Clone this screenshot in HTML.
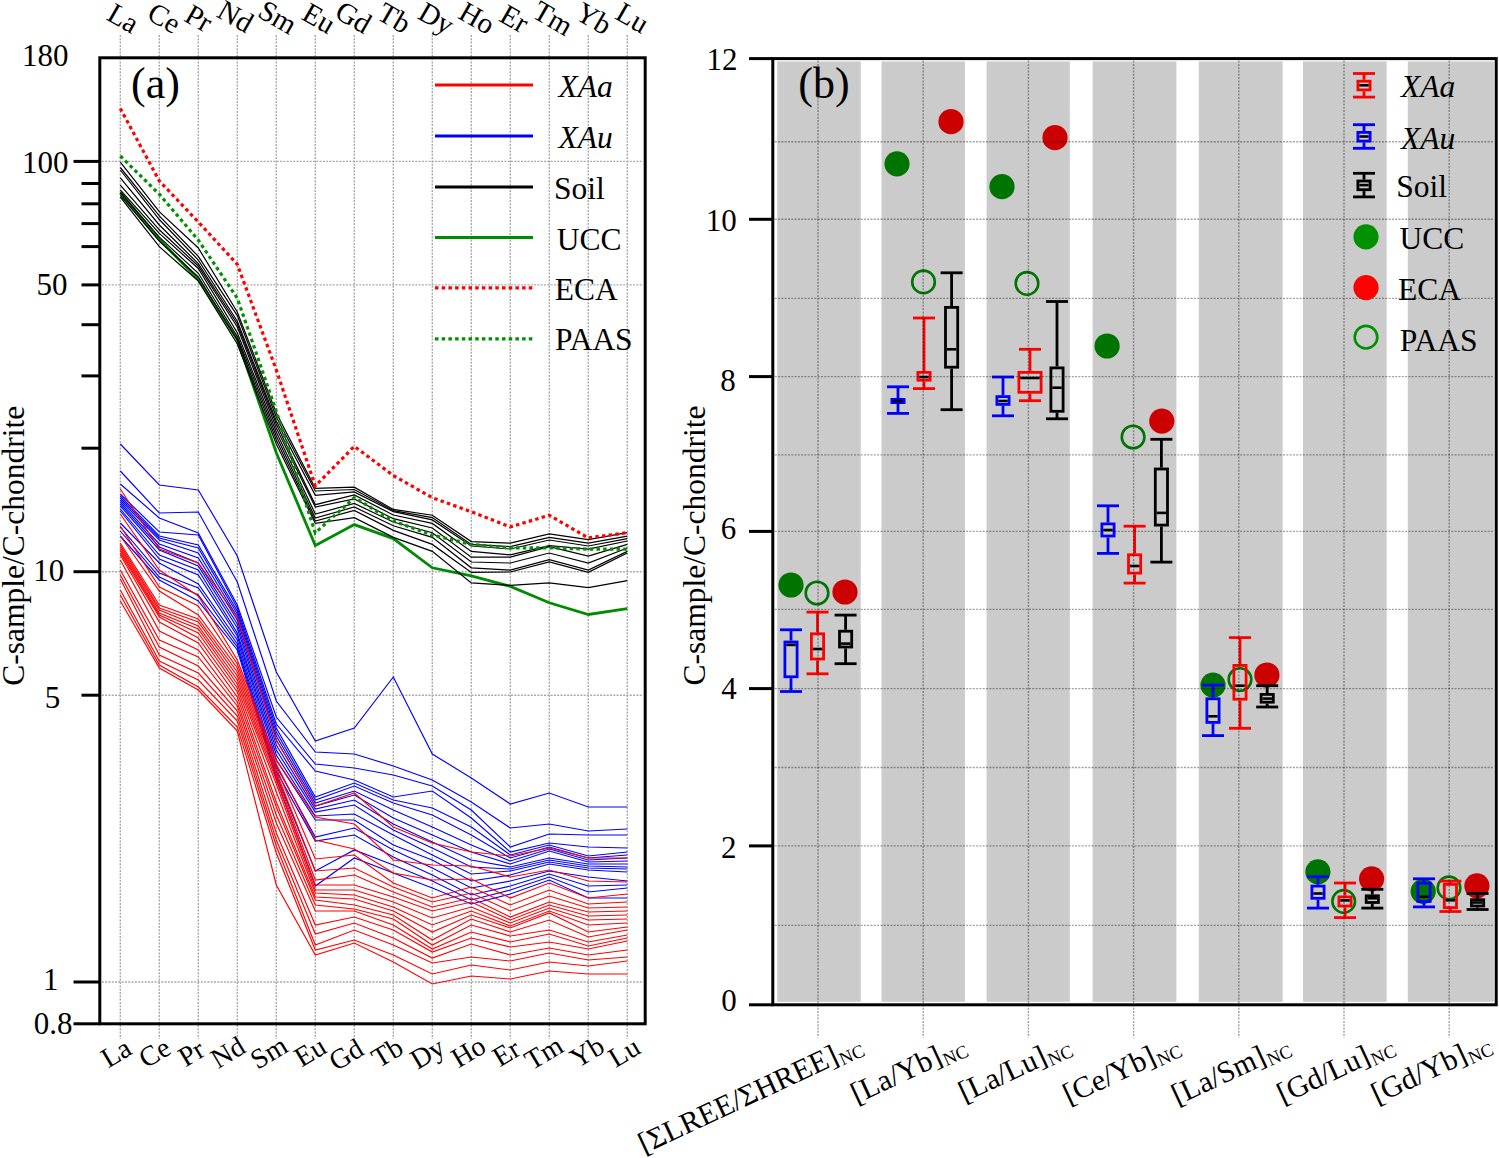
<!DOCTYPE html>
<html><head><meta charset="utf-8"><style>
html,body{margin:0;padding:0;background:#fff;overflow:hidden;}
svg{display:block;font-family:"Liberation Serif", serif;}
</style></head><body>
<svg width="1499" height="1158" viewBox="0 0 1499 1158" font-family='"Liberation Serif", serif'>
<rect width="1499" height="1158" fill="#fff"/>
<line x1="120.3" y1="35" x2="120.3" y2="1039" stroke="#a9a9a9" stroke-width="1.4" stroke-dasharray="2 1.3"/>
<line x1="159.3" y1="35" x2="159.3" y2="1039" stroke="#a9a9a9" stroke-width="1.4" stroke-dasharray="2 1.3"/>
<line x1="198.3" y1="35" x2="198.3" y2="1039" stroke="#a9a9a9" stroke-width="1.4" stroke-dasharray="2 1.3"/>
<line x1="237.3" y1="35" x2="237.3" y2="1039" stroke="#a9a9a9" stroke-width="1.4" stroke-dasharray="2 1.3"/>
<line x1="276.3" y1="35" x2="276.3" y2="1039" stroke="#a9a9a9" stroke-width="1.4" stroke-dasharray="2 1.3"/>
<line x1="315.3" y1="35" x2="315.3" y2="1039" stroke="#a9a9a9" stroke-width="1.4" stroke-dasharray="2 1.3"/>
<line x1="354.3" y1="35" x2="354.3" y2="1039" stroke="#a9a9a9" stroke-width="1.4" stroke-dasharray="2 1.3"/>
<line x1="393.3" y1="35" x2="393.3" y2="1039" stroke="#a9a9a9" stroke-width="1.4" stroke-dasharray="2 1.3"/>
<line x1="432.3" y1="35" x2="432.3" y2="1039" stroke="#a9a9a9" stroke-width="1.4" stroke-dasharray="2 1.3"/>
<line x1="471.3" y1="35" x2="471.3" y2="1039" stroke="#a9a9a9" stroke-width="1.4" stroke-dasharray="2 1.3"/>
<line x1="510.3" y1="35" x2="510.3" y2="1039" stroke="#a9a9a9" stroke-width="1.4" stroke-dasharray="2 1.3"/>
<line x1="549.3" y1="35" x2="549.3" y2="1039" stroke="#a9a9a9" stroke-width="1.4" stroke-dasharray="2 1.3"/>
<line x1="588.3" y1="35" x2="588.3" y2="1039" stroke="#a9a9a9" stroke-width="1.4" stroke-dasharray="2 1.3"/>
<line x1="627.3" y1="35" x2="627.3" y2="1039" stroke="#a9a9a9" stroke-width="1.4" stroke-dasharray="2 1.3"/>
<line x1="101.8" y1="161.4" x2="643.2" y2="161.4" stroke="#a9a9a9" stroke-width="1.4" stroke-dasharray="2 1.3"/>
<line x1="101.8" y1="284.9" x2="643.2" y2="284.9" stroke="#a9a9a9" stroke-width="1.4" stroke-dasharray="2 1.3"/>
<line x1="101.8" y1="571.7" x2="643.2" y2="571.7" stroke="#a9a9a9" stroke-width="1.4" stroke-dasharray="2 1.3"/>
<line x1="101.8" y1="695.2" x2="643.2" y2="695.2" stroke="#a9a9a9" stroke-width="1.4" stroke-dasharray="2 1.3"/>
<line x1="101.8" y1="982.0" x2="643.2" y2="982.0" stroke="#a9a9a9" stroke-width="1.4" stroke-dasharray="2 1.3"/>
<polyline points="120.3,444.0 159.3,485.0 198.3,490.0 237.3,556.0 276.3,672.0 315.3,741.0 354.3,728.0 393.3,677.0 432.3,754.0 471.3,778.0 510.3,804.0 549.3,793.0 588.3,807.0 627.3,807.0" fill="none" stroke="#0000ff" stroke-width="1.15"/>
<polyline points="120.3,471.0 159.3,513.0 198.3,512.0 237.3,582.0 276.3,701.0 315.3,752.0 354.3,754.0 393.3,766.0 432.3,780.0 471.3,802.0 510.3,828.0 549.3,824.0 588.3,831.0 627.3,829.0" fill="none" stroke="#0000ff" stroke-width="1.15"/>
<polyline points="120.3,484.0 159.3,518.0 198.3,533.0 237.3,605.0 276.3,717.0 315.3,764.0 354.3,768.0 393.3,775.0 432.3,786.0 471.3,810.0 510.3,847.0 549.3,834.0 588.3,835.0 627.3,835.0" fill="none" stroke="#0000ff" stroke-width="1.15"/>
<polyline points="120.3,494.0 159.3,532.0 198.3,535.0 237.3,608.0 276.3,724.0 315.3,771.0 354.3,780.0 393.3,797.0 432.3,791.0 471.3,818.0 510.3,852.0 549.3,843.0 588.3,847.0 627.3,848.0" fill="none" stroke="#0000ff" stroke-width="1.15"/>
<polyline points="120.3,496.0 159.3,536.0 198.3,545.0 237.3,611.0 276.3,728.0 315.3,797.0 354.3,783.0 393.3,800.0 432.3,808.0 471.3,827.0 510.3,855.0 549.3,845.0 588.3,856.0 627.3,852.0" fill="none" stroke="#0000ff" stroke-width="1.15"/>
<polyline points="120.3,498.0 159.3,538.0 198.3,548.0 237.3,614.0 276.3,732.0 315.3,800.0 354.3,786.0 393.3,803.0 432.3,815.0 471.3,835.0 510.3,858.0 549.3,847.0 588.3,858.0 627.3,855.0" fill="none" stroke="#0000ff" stroke-width="1.15"/>
<polyline points="120.3,500.0 159.3,540.0 198.3,553.0 237.3,617.0 276.3,736.0 315.3,803.0 354.3,791.0 393.3,810.0 432.3,827.0 471.3,845.0 510.3,861.0 549.3,849.0 588.3,860.0 627.3,858.0" fill="none" stroke="#0000ff" stroke-width="1.15"/>
<polyline points="120.3,502.0 159.3,544.0 198.3,558.0 237.3,620.0 276.3,740.0 315.3,806.0 354.3,795.0 393.3,818.0 432.3,835.0 471.3,852.0 510.3,864.0 549.3,851.0 588.3,862.0 627.3,861.0" fill="none" stroke="#0000ff" stroke-width="1.15"/>
<polyline points="120.3,504.0 159.3,547.0 198.3,563.0 237.3,624.0 276.3,745.0 315.3,809.0 354.3,800.0 393.3,824.0 432.3,842.0 471.3,860.0 510.3,867.0 549.3,858.0 588.3,864.0 627.3,864.0" fill="none" stroke="#0000ff" stroke-width="1.15"/>
<polyline points="120.3,506.0 159.3,550.0 198.3,566.0 237.3,628.0 276.3,750.0 315.3,812.0 354.3,805.0 393.3,830.0 432.3,848.0 471.3,867.0 510.3,869.0 549.3,860.0 588.3,866.0 627.3,867.0" fill="none" stroke="#0000ff" stroke-width="1.15"/>
<polyline points="120.3,509.0 159.3,555.0 198.3,570.0 237.3,633.0 276.3,755.0 315.3,816.0 354.3,814.0 393.3,835.0 432.3,855.0 471.3,874.0 510.3,871.0 549.3,862.0 588.3,868.0 627.3,869.0" fill="none" stroke="#0000ff" stroke-width="1.15"/>
<polyline points="120.3,511.0 159.3,559.0 198.3,575.0 237.3,636.0 276.3,760.0 315.3,820.0 354.3,820.0 393.3,845.0 432.3,860.0 471.3,881.0 510.3,875.0 549.3,864.0 588.3,870.0 627.3,872.0" fill="none" stroke="#0000ff" stroke-width="1.15"/>
<polyline points="120.3,523.0 159.3,563.0 198.3,584.0 237.3,640.0 276.3,766.0 315.3,837.0 354.3,828.0 393.3,850.0 432.3,868.0 471.3,888.0 510.3,881.0 549.3,871.0 588.3,877.0 627.3,881.0" fill="none" stroke="#0000ff" stroke-width="1.15"/>
<polyline points="120.3,527.0 159.3,573.0 198.3,588.0 237.3,644.0 276.3,771.0 315.3,841.0 354.3,835.0 393.3,857.0 432.3,875.0 471.3,895.0 510.3,886.0 549.3,874.0 588.3,886.0 627.3,885.0" fill="none" stroke="#0000ff" stroke-width="1.15"/>
<polyline points="120.3,531.0 159.3,577.0 198.3,595.0 237.3,647.0 276.3,775.0 315.3,871.0 354.3,850.0 393.3,865.0 432.3,881.0 471.3,900.0 510.3,890.0 549.3,877.0 588.3,892.0 627.3,888.0" fill="none" stroke="#0000ff" stroke-width="1.15"/>
<polyline points="120.3,536.0 159.3,580.0 198.3,601.0 237.3,650.0 276.3,779.0 315.3,886.0 354.3,858.0 393.3,873.0 432.3,888.0 471.3,904.0 510.3,894.0 549.3,880.0 588.3,898.0 627.3,898.0" fill="none" stroke="#0000ff" stroke-width="1.15"/>
<polyline points="120.3,489.0 159.3,549.0 198.3,563.0 237.3,617.0 276.3,740.0 315.3,806.0 354.3,793.0 393.3,827.0 432.3,843.0 471.3,852.0 510.3,856.0 549.3,848.0 588.3,858.0 627.3,858.0" fill="none" stroke="#ff0000" stroke-width="1.15"/>
<polyline points="120.3,514.0 159.3,570.0 198.3,596.0 237.3,660.0 276.3,760.0 315.3,817.0 354.3,824.0 393.3,860.0 432.3,865.0 471.3,866.0 510.3,877.0 549.3,870.0 588.3,881.0 627.3,882.0" fill="none" stroke="#ff0000" stroke-width="1.15"/>
<polyline points="120.3,526.0 159.3,587.0 198.3,606.0 237.3,664.0 276.3,764.0 315.3,840.0 354.3,849.0 393.3,873.0 432.3,880.0 471.3,879.0 510.3,898.0 549.3,883.0 588.3,898.0 627.3,894.0" fill="none" stroke="#ff0000" stroke-width="1.15"/>
<polyline points="120.3,536.0 159.3,591.0 198.3,615.0 237.3,668.0 276.3,768.0 315.3,859.0 354.3,855.0 393.3,883.0 432.3,898.0 471.3,887.0 510.3,905.0 549.3,890.0 588.3,904.0 627.3,902.0" fill="none" stroke="#ff0000" stroke-width="1.15"/>
<polyline points="120.3,543.0 159.3,605.0 198.3,619.0 237.3,672.0 276.3,772.0 315.3,871.0 354.3,868.0 393.3,887.0 432.3,902.0 471.3,893.0 510.3,911.0 549.3,896.0 588.3,908.0 627.3,907.0" fill="none" stroke="#ff0000" stroke-width="1.15"/>
<polyline points="120.3,545.0 159.3,608.0 198.3,622.0 237.3,676.0 276.3,776.0 315.3,880.0 354.3,875.0 393.3,892.0 432.3,907.0 471.3,898.0 510.3,917.0 549.3,902.0 588.3,912.0 627.3,911.0" fill="none" stroke="#ff0000" stroke-width="1.15"/>
<polyline points="120.3,547.0 159.3,610.0 198.3,626.0 237.3,680.0 276.3,780.0 315.3,885.0 354.3,885.0 393.3,897.0 432.3,911.0 471.3,902.0 510.3,920.0 549.3,905.0 588.3,916.0 627.3,915.0" fill="none" stroke="#ff0000" stroke-width="1.15"/>
<polyline points="120.3,549.0 159.3,613.0 198.3,629.0 237.3,684.0 276.3,784.0 315.3,890.0 354.3,890.0 393.3,902.0 432.3,918.0 471.3,907.0 510.3,923.0 549.3,908.0 588.3,920.0 627.3,919.0" fill="none" stroke="#ff0000" stroke-width="1.15"/>
<polyline points="120.3,551.0 159.3,615.0 198.3,633.0 237.3,688.0 276.3,792.0 315.3,893.0 354.3,895.0 393.3,907.0 432.3,925.0 471.3,911.0 510.3,926.0 549.3,911.0 588.3,925.0 627.3,923.0" fill="none" stroke="#ff0000" stroke-width="1.15"/>
<polyline points="120.3,553.0 159.3,617.0 198.3,638.0 237.3,692.0 276.3,802.0 315.3,897.0 354.3,899.0 393.3,911.0 432.3,932.0 471.3,915.0 510.3,928.0 549.3,913.0 588.3,932.0 627.3,927.0" fill="none" stroke="#ff0000" stroke-width="1.15"/>
<polyline points="120.3,555.0 159.3,622.0 198.3,643.0 237.3,697.0 276.3,807.0 315.3,900.0 354.3,905.0 393.3,915.0 432.3,940.0 471.3,919.0 510.3,932.0 549.3,920.0 588.3,937.0 627.3,930.0" fill="none" stroke="#ff0000" stroke-width="1.15"/>
<polyline points="120.3,560.0 159.3,631.0 198.3,650.0 237.3,702.0 276.3,815.0 315.3,905.0 354.3,909.0 393.3,919.0 432.3,945.0 471.3,925.0 510.3,936.0 549.3,930.0 588.3,942.0 627.3,935.0" fill="none" stroke="#ff0000" stroke-width="1.15"/>
<polyline points="120.3,570.0 159.3,640.0 198.3,657.0 237.3,706.0 276.3,823.0 315.3,911.0 354.3,911.0 393.3,925.0 432.3,949.0 471.3,932.0 510.3,942.0 549.3,934.0 588.3,946.0 627.3,938.0" fill="none" stroke="#ff0000" stroke-width="1.15"/>
<polyline points="120.3,575.0 159.3,647.0 198.3,666.0 237.3,711.0 276.3,833.0 315.3,925.0 354.3,917.0 393.3,930.0 432.3,952.0 471.3,938.0 510.3,947.0 549.3,942.0 588.3,949.0 627.3,941.0" fill="none" stroke="#ff0000" stroke-width="1.15"/>
<polyline points="120.3,579.0 159.3,655.0 198.3,673.0 237.3,716.0 276.3,840.0 315.3,934.0 354.3,923.0 393.3,938.0 432.3,958.0 471.3,944.0 510.3,955.0 549.3,948.0 588.3,955.0 627.3,950.0" fill="none" stroke="#ff0000" stroke-width="1.15"/>
<polyline points="120.3,590.0 159.3,661.0 198.3,680.0 237.3,721.0 276.3,846.0 315.3,945.0 354.3,930.0 393.3,945.0 432.3,963.0 471.3,957.0 510.3,961.0 549.3,953.0 588.3,960.0 627.3,957.0" fill="none" stroke="#ff0000" stroke-width="1.15"/>
<polyline points="120.3,595.0 159.3,665.0 198.3,687.0 237.3,727.0 276.3,853.0 315.3,950.0 354.3,940.0 393.3,955.0 432.3,974.0 471.3,965.0 510.3,970.0 549.3,962.0 588.3,966.0 627.3,961.0" fill="none" stroke="#ff0000" stroke-width="1.15"/>
<polyline points="120.3,601.0 159.3,668.0 198.3,690.0 237.3,731.0 276.3,885.0 315.3,955.0 354.3,943.0 393.3,962.0 432.3,984.0 471.3,976.0 510.3,979.0 549.3,971.0 588.3,974.0 627.3,974.0" fill="none" stroke="#ff0000" stroke-width="1.15"/>
<polyline points="120.3,192.5 159.3,239.5 198.3,279.5 237.3,339.5 276.3,452.8 315.3,545.6 354.3,524.6 393.3,538.6 432.3,567.8 471.3,575.9 510.3,586.4 549.3,602.8 588.3,614.5 627.3,608.6" fill="none" stroke="#008c00" stroke-width="2.8"/>
<polyline points="120.3,162.1 159.3,211.7 198.3,248.0 237.3,312.0 276.3,413.0 315.3,488.4 354.3,487.2 393.3,509.4 432.3,515.2 471.3,541.6 510.3,543.2 549.3,533.9 588.3,539.7 627.3,532.7" fill="none" stroke="#000" stroke-width="1.2"/>
<polyline points="120.3,167.5 159.3,215.9 198.3,256.4 237.3,315.6 276.3,417.0 315.3,491.0 354.3,489.5 393.3,510.6 432.3,517.6 471.3,544.4 510.3,546.7 549.3,537.4 588.3,543.2 627.3,536.2" fill="none" stroke="#000" stroke-width="1.2"/>
<polyline points="120.3,170.0 159.3,219.5 198.3,260.0 237.3,321.3 276.3,421.0 315.3,495.4 354.3,491.9 393.3,511.7 432.3,519.9 471.3,546.0 510.3,549.0 549.3,540.0 588.3,546.0 627.3,538.6" fill="none" stroke="#000" stroke-width="1.2"/>
<polyline points="120.3,177.8 159.3,225.0 198.3,263.6 237.3,324.0 276.3,424.0 315.3,504.7 354.3,495.0 393.3,515.0 432.3,523.4 471.3,551.4 510.3,554.9 549.3,545.6 588.3,549.1 627.3,541.0" fill="none" stroke="#000" stroke-width="1.2"/>
<polyline points="120.3,185.1 159.3,229.8 198.3,266.0 237.3,327.0 276.3,428.0 315.3,507.0 354.3,498.9 393.3,518.7 432.3,528.0 471.3,557.2 510.3,557.2 549.3,546.7 588.3,556.1 627.3,544.4" fill="none" stroke="#000" stroke-width="1.2"/>
<polyline points="120.3,189.9 159.3,233.4 198.3,268.5 237.3,332.7 276.3,432.0 315.3,514.0 354.3,503.5 393.3,522.0 432.3,532.7 471.3,562.0 510.3,563.0 549.3,553.0 588.3,563.0 627.3,548.0" fill="none" stroke="#000" stroke-width="1.2"/>
<polyline points="120.3,192.5 159.3,237.1 198.3,273.3 237.3,336.5 276.3,436.0 315.3,518.0 354.3,507.0 393.3,525.7 432.3,537.4 471.3,567.8 510.3,570.1 549.3,559.6 588.3,570.1 627.3,551.4" fill="none" stroke="#000" stroke-width="1.2"/>
<polyline points="120.3,195.3 159.3,241.0 198.3,277.0 237.3,340.0 276.3,440.0 315.3,521.0 354.3,510.5 393.3,530.4 432.3,544.4 471.3,572.4 510.3,572.0 549.3,561.9 588.3,572.4 627.3,553.0" fill="none" stroke="#000" stroke-width="1.2"/>
<polyline points="120.3,197.2 159.3,246.7 198.3,281.0 237.3,344.0 276.3,444.0 315.3,523.4 354.3,517.6 393.3,537.4 432.3,551.4 471.3,582.9 510.3,585.3 549.3,582.9 588.3,587.6 627.3,580.6" fill="none" stroke="#000" stroke-width="1.2"/>
<polyline points="120.3,156.0 159.3,194.2 198.3,240.1 237.3,298.2 276.3,411.3 315.3,532.9 354.3,497.7 393.3,521.0 432.3,535.1 471.3,544.4 510.3,547.9 549.3,547.9 588.3,549.1 627.3,549.1" fill="none" stroke="#009000" stroke-width="3.2" stroke-dasharray="3.5 3.2"/>
<polyline points="120.3,108.4 159.3,180.9 198.3,222.0 237.3,264.3 276.3,369.9 315.3,486.0 354.3,446.3 393.3,475.5 432.3,497.7 471.3,511.7 510.3,526.9 549.3,515.2 588.3,537.9 627.3,532.7" fill="none" stroke="#ff0000" stroke-width="3.2" stroke-dasharray="3.5 3.2"/>
<line x1="435" y1="85.1" x2="533" y2="85.1" stroke="#ff0000" stroke-width="3"/>
<text transform="translate(558.50,96.90)" text-anchor="start" font-size="31.5" font-style="italic">XAa</text>
<line x1="435" y1="135.9" x2="533" y2="135.9" stroke="#0000ff" stroke-width="3"/>
<text transform="translate(558.50,147.90)" text-anchor="start" font-size="31.5" font-style="italic">XAu</text>
<line x1="435" y1="186.9" x2="533" y2="186.9" stroke="#000" stroke-width="3"/>
<text transform="translate(554.00,198.90)" text-anchor="start" font-size="31.5">Soil</text>
<line x1="435" y1="237.4" x2="533" y2="237.4" stroke="#008c00" stroke-width="3"/>
<text transform="translate(556.70,249.50)" text-anchor="start" font-size="31.5">UCC</text>
<line x1="435" y1="287.9" x2="533" y2="287.9" stroke="#ff0000" stroke-width="3.2" stroke-dasharray="3.5 3.2"/>
<text transform="translate(554.70,299.80)" text-anchor="start" font-size="31.5">ECA</text>
<line x1="435" y1="338.9" x2="533" y2="338.9" stroke="#009000" stroke-width="3.2" stroke-dasharray="3.5 3.2"/>
<text transform="translate(555.00,350.00)" text-anchor="start" font-size="31.5">PAAS</text>
<rect x="99.8" y="57.8" width="545.4" height="966.0" fill="none" stroke="#000" stroke-width="3"/>
<line x1="73.5" y1="161.4" x2="99.8" y2="161.4" stroke="#000" stroke-width="3"/>
<line x1="73.5" y1="571.7" x2="99.8" y2="571.7" stroke="#000" stroke-width="3"/>
<line x1="73.5" y1="982.0" x2="99.8" y2="982.0" stroke="#000" stroke-width="3"/>
<line x1="81.5" y1="183.5" x2="99.8" y2="183.5" stroke="#000" stroke-width="3"/>
<line x1="81.5" y1="203.8" x2="99.8" y2="203.8" stroke="#000" stroke-width="3"/>
<line x1="81.5" y1="223.6" x2="99.8" y2="223.6" stroke="#000" stroke-width="3"/>
<line x1="81.5" y1="246.6" x2="99.8" y2="246.6" stroke="#000" stroke-width="3"/>
<line x1="81.5" y1="284.9" x2="99.8" y2="284.9" stroke="#000" stroke-width="3"/>
<line x1="81.5" y1="324.7" x2="99.8" y2="324.7" stroke="#000" stroke-width="3"/>
<line x1="81.5" y1="375.9" x2="99.8" y2="375.9" stroke="#000" stroke-width="3"/>
<line x1="81.5" y1="448.2" x2="99.8" y2="448.2" stroke="#000" stroke-width="3"/>
<line x1="81.5" y1="695.2" x2="99.8" y2="695.2" stroke="#000" stroke-width="3"/>
<line x1="73.5" y1="1023.8" x2="99.8" y2="1023.8" stroke="#000" stroke-width="3"/>
<text transform="translate(45.15,65.50)" text-anchor="middle" font-size="31">180</text>
<text transform="translate(45.15,173.15)" text-anchor="middle" font-size="31">100</text>
<text transform="translate(52.10,294.96)" text-anchor="middle" font-size="31">50</text>
<text transform="translate(48.75,581.10)" text-anchor="middle" font-size="31">10</text>
<text transform="translate(52.55,707.51)" text-anchor="middle" font-size="31">5</text>
<text transform="translate(50.75,989.55)" text-anchor="middle" font-size="31">1</text>
<text transform="translate(53.00,1034.10)" text-anchor="middle" font-size="31">0.8</text>
<text transform="translate(155.50,97.50)" text-anchor="middle" font-size="44">(a)</text>
<text transform="translate(23.50,545.70) rotate(-90)" text-anchor="middle" font-size="31.5">C-sample/C-chondrite</text>
<text transform="translate(118.40,26.60) rotate(30)" text-anchor="middle" font-size="29">La</text>
<text transform="translate(120.80,1061.00) rotate(-31)" text-anchor="middle" font-size="28">La</text>
<text transform="translate(159.40,26.30) rotate(30)" text-anchor="middle" font-size="29">Ce</text>
<text transform="translate(159.40,1060.80) rotate(-31)" text-anchor="middle" font-size="28">Ce</text>
<text transform="translate(193.90,26.60) rotate(30)" text-anchor="middle" font-size="29">Pr</text>
<text transform="translate(196.20,1061.00) rotate(-31)" text-anchor="middle" font-size="28">Pr</text>
<text transform="translate(230.60,24.90) rotate(30)" text-anchor="middle" font-size="29">Nd</text>
<text transform="translate(232.60,1060.40) rotate(-31)" text-anchor="middle" font-size="28">Nd</text>
<text transform="translate(272.90,25.60) rotate(30)" text-anchor="middle" font-size="29">Sm</text>
<text transform="translate(273.60,1060.30) rotate(-31)" text-anchor="middle" font-size="28">Sm</text>
<text transform="translate(314.20,26.60) rotate(30)" text-anchor="middle" font-size="29">Eu</text>
<text transform="translate(314.90,1059.80) rotate(-31)" text-anchor="middle" font-size="28">Eu</text>
<text transform="translate(348.60,25.60) rotate(30)" text-anchor="middle" font-size="29">Gd</text>
<text transform="translate(350.80,1062.60) rotate(-31)" text-anchor="middle" font-size="28">Gd</text>
<text transform="translate(389.50,26.40) rotate(30)" text-anchor="middle" font-size="29">Tb</text>
<text transform="translate(392.00,1060.60) rotate(-31)" text-anchor="middle" font-size="28">Tb</text>
<text transform="translate(431.50,26.60) rotate(30)" text-anchor="middle" font-size="29">Dy</text>
<text transform="translate(432.10,1061.30) rotate(-31)" text-anchor="middle" font-size="28">Dy</text>
<text transform="translate(472.10,26.40) rotate(30)" text-anchor="middle" font-size="29">Ho</text>
<text transform="translate(473.10,1059.80) rotate(-31)" text-anchor="middle" font-size="28">Ho</text>
<text transform="translate(509.50,27.10) rotate(30)" text-anchor="middle" font-size="29">Er</text>
<text transform="translate(511.00,1060.80) rotate(-31)" text-anchor="middle" font-size="28">Er</text>
<text transform="translate(548.10,26.60) rotate(30)" text-anchor="middle" font-size="29">Tm</text>
<text transform="translate(548.40,1060.80) rotate(-31)" text-anchor="middle" font-size="28">Tm</text>
<text transform="translate(588.90,26.90) rotate(30)" text-anchor="middle" font-size="29">Yb</text>
<text transform="translate(591.90,1059.90) rotate(-31)" text-anchor="middle" font-size="28">Yb</text>
<text transform="translate(627.60,26.10) rotate(30)" text-anchor="middle" font-size="29">Lu</text>
<text transform="translate(628.80,1060.30) rotate(-31)" text-anchor="middle" font-size="28">Lu</text>
<rect x="777.3" y="61.5" width="83.4" height="940.3" fill="#cbcbcb"/>
<rect x="881.5" y="61.5" width="83.4" height="940.3" fill="#cbcbcb"/>
<rect x="986.6" y="61.5" width="83.2" height="940.3" fill="#cbcbcb"/>
<rect x="1092.6" y="61.5" width="83.8" height="940.3" fill="#cbcbcb"/>
<rect x="1198.8" y="61.5" width="83.8" height="940.3" fill="#cbcbcb"/>
<rect x="1303.0" y="61.5" width="83.6" height="940.3" fill="#cbcbcb"/>
<rect x="1407.8" y="61.5" width="86.0" height="940.3" fill="#cbcbcb"/>
<circle cx="791" cy="585" r="12.6" fill="#007400"/>
<circle cx="897" cy="163.8" r="12.6" fill="#007400"/>
<circle cx="1002" cy="186.7" r="12.6" fill="#007400"/>
<circle cx="1107.1" cy="346" r="12.6" fill="#007400"/>
<circle cx="1213" cy="685.1" r="12.6" fill="#007400"/>
<circle cx="1317.9" cy="871.8" r="12.6" fill="#007400"/>
<circle cx="1423.2" cy="891.4" r="12.6" fill="#007400"/>
<circle cx="845" cy="592" r="12.6" fill="#cc0000"/>
<circle cx="951" cy="121.7" r="12.6" fill="#cc0000"/>
<circle cx="1055" cy="137.7" r="12.6" fill="#cc0000"/>
<circle cx="1161.8" cy="421.1" r="12.6" fill="#cc0000"/>
<circle cx="1266.9" cy="675" r="12.6" fill="#cc0000"/>
<circle cx="1371.6" cy="878.8" r="12.6" fill="#cc0000"/>
<circle cx="1476.9" cy="885.8" r="12.6" fill="#cc0000"/>
<circle cx="817" cy="593" r="11.299999999999999" fill="none" stroke="#007400" stroke-width="2.6"/>
<circle cx="923.5" cy="281.9" r="11.299999999999999" fill="none" stroke="#007400" stroke-width="2.6"/>
<circle cx="1027" cy="283.4" r="11.299999999999999" fill="none" stroke="#007400" stroke-width="2.6"/>
<circle cx="1133.1" cy="437" r="11.299999999999999" fill="none" stroke="#007400" stroke-width="2.6"/>
<circle cx="1240" cy="679.5" r="11.299999999999999" fill="none" stroke="#007400" stroke-width="2.6"/>
<circle cx="1343.7" cy="901.4" r="11.299999999999999" fill="none" stroke="#007400" stroke-width="2.6"/>
<circle cx="1449" cy="887.9" r="11.299999999999999" fill="none" stroke="#007400" stroke-width="2.6"/>
<line x1="780.0" y1="629.8" x2="802.0" y2="629.8" stroke="#0000ff" stroke-width="2.8"/>
<line x1="780.0" y1="691.5" x2="802.0" y2="691.5" stroke="#0000ff" stroke-width="2.8"/>
<line x1="791.0" y1="629.8" x2="791.0" y2="640.6" stroke="#0000ff" stroke-width="2.8"/>
<line x1="791.0" y1="678.2" x2="791.0" y2="691.5" stroke="#0000ff" stroke-width="2.8"/>
<rect x="784.9" y="642.0" width="12.2" height="34.8" fill="none" stroke="#0000ff" stroke-width="2.8"/>
<line x1="786.3" y1="644.9" x2="795.7" y2="644.9" stroke="#000" stroke-width="2.6"/>
<line x1="887.0" y1="386.8" x2="909.0" y2="386.8" stroke="#0000ff" stroke-width="2.8"/>
<line x1="887.0" y1="413.4" x2="909.0" y2="413.4" stroke="#0000ff" stroke-width="2.8"/>
<line x1="898.0" y1="386.8" x2="898.0" y2="398.0" stroke="#0000ff" stroke-width="2.8"/>
<line x1="898.0" y1="404.0" x2="898.0" y2="413.4" stroke="#0000ff" stroke-width="2.8"/>
<rect x="891.9" y="399.4" width="12.2" height="3.2" fill="none" stroke="#0000ff" stroke-width="2.8"/>
<line x1="893.3" y1="401.0" x2="902.7" y2="401.0" stroke="#000" stroke-width="2.6"/>
<line x1="992.0" y1="377.0" x2="1014.0" y2="377.0" stroke="#0000ff" stroke-width="2.8"/>
<line x1="992.0" y1="415.8" x2="1014.0" y2="415.8" stroke="#0000ff" stroke-width="2.8"/>
<line x1="1003.0" y1="377.0" x2="1003.0" y2="395.2" stroke="#0000ff" stroke-width="2.8"/>
<line x1="1003.0" y1="405.8" x2="1003.0" y2="415.8" stroke="#0000ff" stroke-width="2.8"/>
<rect x="996.9" y="396.6" width="12.2" height="7.8" fill="none" stroke="#0000ff" stroke-width="2.8"/>
<line x1="998.3" y1="401.0" x2="1007.7" y2="401.0" stroke="#000" stroke-width="2.6"/>
<line x1="1097.0" y1="505.8" x2="1119.0" y2="505.8" stroke="#0000ff" stroke-width="2.8"/>
<line x1="1097.0" y1="553.4" x2="1119.0" y2="553.4" stroke="#0000ff" stroke-width="2.8"/>
<line x1="1108.0" y1="505.8" x2="1108.0" y2="522.5" stroke="#0000ff" stroke-width="2.8"/>
<line x1="1108.0" y1="537.4" x2="1108.0" y2="553.4" stroke="#0000ff" stroke-width="2.8"/>
<rect x="1101.9" y="523.9" width="12.2" height="12.1" fill="none" stroke="#0000ff" stroke-width="2.8"/>
<line x1="1103.3" y1="530.0" x2="1112.7" y2="530.0" stroke="#000" stroke-width="2.6"/>
<line x1="1202.0" y1="685.1" x2="1224.0" y2="685.1" stroke="#0000ff" stroke-width="2.8"/>
<line x1="1202.0" y1="735.6" x2="1224.0" y2="735.6" stroke="#0000ff" stroke-width="2.8"/>
<line x1="1213.0" y1="685.1" x2="1213.0" y2="697.4" stroke="#0000ff" stroke-width="2.8"/>
<line x1="1213.0" y1="723.8" x2="1213.0" y2="735.6" stroke="#0000ff" stroke-width="2.8"/>
<rect x="1206.9" y="698.8" width="12.2" height="23.6" fill="none" stroke="#0000ff" stroke-width="2.8"/>
<line x1="1208.3" y1="716.3" x2="1217.7" y2="716.3" stroke="#000" stroke-width="2.6"/>
<line x1="1307.0" y1="876.7" x2="1329.0" y2="876.7" stroke="#0000ff" stroke-width="2.8"/>
<line x1="1307.0" y1="908.1" x2="1329.0" y2="908.1" stroke="#0000ff" stroke-width="2.8"/>
<line x1="1318.0" y1="876.7" x2="1318.0" y2="884.7" stroke="#0000ff" stroke-width="2.8"/>
<line x1="1318.0" y1="899.7" x2="1318.0" y2="908.1" stroke="#0000ff" stroke-width="2.8"/>
<rect x="1311.9" y="886.1" width="12.2" height="12.2" fill="none" stroke="#0000ff" stroke-width="2.8"/>
<line x1="1313.3" y1="893.5" x2="1322.7" y2="893.5" stroke="#000" stroke-width="2.6"/>
<line x1="1413.0" y1="878.8" x2="1435.0" y2="878.8" stroke="#0000ff" stroke-width="2.8"/>
<line x1="1413.0" y1="906.9" x2="1435.0" y2="906.9" stroke="#0000ff" stroke-width="2.8"/>
<line x1="1424.0" y1="878.8" x2="1424.0" y2="881.8" stroke="#0000ff" stroke-width="2.8"/>
<line x1="1424.0" y1="902.9" x2="1424.0" y2="906.9" stroke="#0000ff" stroke-width="2.8"/>
<rect x="1417.9" y="883.2" width="12.2" height="18.3" fill="none" stroke="#0000ff" stroke-width="2.8"/>
<line x1="1419.3" y1="896.7" x2="1428.7" y2="896.7" stroke="#000" stroke-width="2.6"/>
<line x1="806.5" y1="612.1" x2="828.5" y2="612.1" stroke="#ff0000" stroke-width="2.8"/>
<line x1="806.5" y1="673.8" x2="828.5" y2="673.8" stroke="#ff0000" stroke-width="2.8"/>
<line x1="817.5" y1="612.1" x2="817.5" y2="632.4" stroke="#ff0000" stroke-width="2.8"/>
<line x1="817.5" y1="660.4" x2="817.5" y2="673.8" stroke="#ff0000" stroke-width="2.8"/>
<rect x="811.4" y="633.8" width="12.2" height="25.2" fill="none" stroke="#ff0000" stroke-width="2.8"/>
<line x1="812.8" y1="649.0" x2="822.2" y2="649.0" stroke="#000" stroke-width="2.6"/>
<line x1="913.0" y1="318.0" x2="935.0" y2="318.0" stroke="#ff0000" stroke-width="2.8"/>
<line x1="913.0" y1="388.6" x2="935.0" y2="388.6" stroke="#ff0000" stroke-width="2.8"/>
<line x1="924.0" y1="318.0" x2="924.0" y2="371.0" stroke="#ff0000" stroke-width="2.8"/>
<line x1="924.0" y1="381.6" x2="924.0" y2="388.6" stroke="#ff0000" stroke-width="2.8"/>
<rect x="917.9" y="372.4" width="12.2" height="7.8" fill="none" stroke="#ff0000" stroke-width="2.8"/>
<line x1="919.3" y1="377.0" x2="928.7" y2="377.0" stroke="#000" stroke-width="2.6"/>
<line x1="1019.0" y1="349.3" x2="1041.0" y2="349.3" stroke="#ff0000" stroke-width="2.8"/>
<line x1="1019.0" y1="400.7" x2="1041.0" y2="400.7" stroke="#ff0000" stroke-width="2.8"/>
<line x1="1030.0" y1="349.3" x2="1030.0" y2="371.0" stroke="#ff0000" stroke-width="2.8"/>
<line x1="1030.0" y1="393.7" x2="1030.0" y2="400.7" stroke="#ff0000" stroke-width="2.8"/>
<rect x="1018.9" y="372.4" width="22.2" height="19.9" fill="none" stroke="#ff0000" stroke-width="2.8"/>
<line x1="1020.3" y1="378.0" x2="1039.7" y2="378.0" stroke="#000" stroke-width="2.6"/>
<line x1="1123.6" y1="526.2" x2="1145.6" y2="526.2" stroke="#ff0000" stroke-width="2.8"/>
<line x1="1123.6" y1="583.1" x2="1145.6" y2="583.1" stroke="#ff0000" stroke-width="2.8"/>
<line x1="1134.6" y1="526.2" x2="1134.6" y2="553.4" stroke="#ff0000" stroke-width="2.8"/>
<line x1="1134.6" y1="574.5" x2="1134.6" y2="583.1" stroke="#ff0000" stroke-width="2.8"/>
<rect x="1128.5" y="554.8" width="12.2" height="18.3" fill="none" stroke="#ff0000" stroke-width="2.8"/>
<line x1="1129.9" y1="566.0" x2="1139.3" y2="566.0" stroke="#000" stroke-width="2.6"/>
<line x1="1229.0" y1="637.6" x2="1251.0" y2="637.6" stroke="#ff0000" stroke-width="2.8"/>
<line x1="1229.0" y1="728.3" x2="1251.0" y2="728.3" stroke="#ff0000" stroke-width="2.8"/>
<line x1="1240.0" y1="637.6" x2="1240.0" y2="664.0" stroke="#ff0000" stroke-width="2.8"/>
<line x1="1240.0" y1="700.6" x2="1240.0" y2="728.3" stroke="#ff0000" stroke-width="2.8"/>
<rect x="1233.9" y="665.4" width="12.2" height="33.8" fill="none" stroke="#ff0000" stroke-width="2.8"/>
<line x1="1235.3" y1="685.7" x2="1244.7" y2="685.7" stroke="#000" stroke-width="2.6"/>
<line x1="1334.0" y1="883.0" x2="1356.0" y2="883.0" stroke="#ff0000" stroke-width="2.8"/>
<line x1="1334.0" y1="917.6" x2="1356.0" y2="917.6" stroke="#ff0000" stroke-width="2.8"/>
<line x1="1345.0" y1="883.0" x2="1345.0" y2="895.5" stroke="#ff0000" stroke-width="2.8"/>
<line x1="1345.0" y1="907.4" x2="1345.0" y2="917.6" stroke="#ff0000" stroke-width="2.8"/>
<rect x="1338.9" y="896.9" width="12.2" height="9.1" fill="none" stroke="#ff0000" stroke-width="2.8"/>
<line x1="1340.3" y1="900.4" x2="1349.7" y2="900.4" stroke="#000" stroke-width="2.6"/>
<line x1="1439.4" y1="881.1" x2="1461.4" y2="881.1" stroke="#ff0000" stroke-width="2.8"/>
<line x1="1439.4" y1="911.5" x2="1461.4" y2="911.5" stroke="#ff0000" stroke-width="2.8"/>
<line x1="1450.4" y1="881.1" x2="1450.4" y2="883.0" stroke="#ff0000" stroke-width="2.8"/>
<line x1="1450.4" y1="909.0" x2="1450.4" y2="911.5" stroke="#ff0000" stroke-width="2.8"/>
<rect x="1444.3" y="884.4" width="12.2" height="23.2" fill="none" stroke="#ff0000" stroke-width="2.8"/>
<line x1="1445.7" y1="900.3" x2="1455.1" y2="900.3" stroke="#000" stroke-width="2.6"/>
<line x1="834.6" y1="615.1" x2="856.6" y2="615.1" stroke="#000000" stroke-width="2.8"/>
<line x1="834.6" y1="663.7" x2="856.6" y2="663.7" stroke="#000000" stroke-width="2.8"/>
<line x1="845.6" y1="615.1" x2="845.6" y2="629.8" stroke="#000000" stroke-width="2.8"/>
<line x1="845.6" y1="648.4" x2="845.6" y2="663.7" stroke="#000000" stroke-width="2.8"/>
<rect x="839.5" y="631.2" width="12.2" height="15.8" fill="none" stroke="#000000" stroke-width="2.8"/>
<line x1="840.9" y1="643.6" x2="850.3" y2="643.6" stroke="#000" stroke-width="2.6"/>
<line x1="940.6" y1="272.8" x2="962.6" y2="272.8" stroke="#000000" stroke-width="2.8"/>
<line x1="940.6" y1="409.7" x2="962.6" y2="409.7" stroke="#000000" stroke-width="2.8"/>
<line x1="951.6" y1="272.8" x2="951.6" y2="306.0" stroke="#000000" stroke-width="2.8"/>
<line x1="951.6" y1="368.6" x2="951.6" y2="409.7" stroke="#000000" stroke-width="2.8"/>
<rect x="945.5" y="307.4" width="12.2" height="59.8" fill="none" stroke="#000000" stroke-width="2.8"/>
<line x1="946.9" y1="349.3" x2="956.3" y2="349.3" stroke="#000" stroke-width="2.6"/>
<line x1="1046.0" y1="301.5" x2="1068.0" y2="301.5" stroke="#000000" stroke-width="2.8"/>
<line x1="1046.0" y1="418.8" x2="1068.0" y2="418.8" stroke="#000000" stroke-width="2.8"/>
<line x1="1057.0" y1="301.5" x2="1057.0" y2="366.5" stroke="#000000" stroke-width="2.8"/>
<line x1="1057.0" y1="412.7" x2="1057.0" y2="418.8" stroke="#000000" stroke-width="2.8"/>
<rect x="1050.9" y="367.9" width="12.2" height="43.4" fill="none" stroke="#000000" stroke-width="2.8"/>
<line x1="1052.3" y1="387.7" x2="1061.7" y2="387.7" stroke="#000" stroke-width="2.6"/>
<line x1="1150.4" y1="439.3" x2="1172.4" y2="439.3" stroke="#000000" stroke-width="2.8"/>
<line x1="1150.4" y1="562.1" x2="1172.4" y2="562.1" stroke="#000000" stroke-width="2.8"/>
<line x1="1161.4" y1="439.3" x2="1161.4" y2="467.6" stroke="#000000" stroke-width="2.8"/>
<line x1="1161.4" y1="526.5" x2="1161.4" y2="562.1" stroke="#000000" stroke-width="2.8"/>
<rect x="1155.3" y="469.0" width="12.2" height="56.1" fill="none" stroke="#000000" stroke-width="2.8"/>
<line x1="1156.7" y1="512.9" x2="1166.1" y2="512.9" stroke="#000" stroke-width="2.6"/>
<line x1="1256.2" y1="685.7" x2="1278.2" y2="685.7" stroke="#000000" stroke-width="2.8"/>
<line x1="1256.2" y1="707.0" x2="1278.2" y2="707.0" stroke="#000000" stroke-width="2.8"/>
<line x1="1267.2" y1="685.7" x2="1267.2" y2="693.0" stroke="#000000" stroke-width="2.8"/>
<line x1="1267.2" y1="703.6" x2="1267.2" y2="707.0" stroke="#000000" stroke-width="2.8"/>
<rect x="1261.1" y="694.4" width="12.2" height="7.8" fill="none" stroke="#000000" stroke-width="2.8"/>
<line x1="1262.5" y1="698.6" x2="1271.9" y2="698.6" stroke="#000" stroke-width="2.6"/>
<line x1="1361.3" y1="889.3" x2="1383.3" y2="889.3" stroke="#000000" stroke-width="2.8"/>
<line x1="1361.3" y1="908.1" x2="1383.3" y2="908.1" stroke="#000000" stroke-width="2.8"/>
<line x1="1372.3" y1="889.3" x2="1372.3" y2="894.4" stroke="#000000" stroke-width="2.8"/>
<line x1="1372.3" y1="903.9" x2="1372.3" y2="908.1" stroke="#000000" stroke-width="2.8"/>
<rect x="1366.2" y="895.8" width="12.2" height="6.7" fill="none" stroke="#000000" stroke-width="2.8"/>
<line x1="1367.6" y1="898.3" x2="1377.0" y2="898.3" stroke="#000" stroke-width="2.6"/>
<line x1="1466.6" y1="893.5" x2="1488.6" y2="893.5" stroke="#000000" stroke-width="2.8"/>
<line x1="1466.6" y1="909.5" x2="1488.6" y2="909.5" stroke="#000000" stroke-width="2.8"/>
<line x1="1477.6" y1="893.5" x2="1477.6" y2="898.3" stroke="#000000" stroke-width="2.8"/>
<line x1="1477.6" y1="907.4" x2="1477.6" y2="909.5" stroke="#000000" stroke-width="2.8"/>
<rect x="1471.5" y="899.7" width="12.2" height="6.3" fill="none" stroke="#000000" stroke-width="2.8"/>
<line x1="1472.9" y1="902.5" x2="1482.3" y2="902.5" stroke="#000" stroke-width="2.6"/>
<line x1="818.0" y1="60.6" x2="818.0" y2="1038" stroke="#000" stroke-opacity="0.37" stroke-width="1.4" stroke-dasharray="2 1.3"/>
<line x1="923.2" y1="60.6" x2="923.2" y2="1038" stroke="#000" stroke-opacity="0.37" stroke-width="1.4" stroke-dasharray="2 1.3"/>
<line x1="1028.4" y1="60.6" x2="1028.4" y2="1038" stroke="#000" stroke-opacity="0.37" stroke-width="1.4" stroke-dasharray="2 1.3"/>
<line x1="1133.6" y1="60.6" x2="1133.6" y2="1038" stroke="#000" stroke-opacity="0.37" stroke-width="1.4" stroke-dasharray="2 1.3"/>
<line x1="1238.8" y1="60.6" x2="1238.8" y2="1038" stroke="#000" stroke-opacity="0.37" stroke-width="1.4" stroke-dasharray="2 1.3"/>
<line x1="1344.0" y1="60.6" x2="1344.0" y2="1038" stroke="#000" stroke-opacity="0.37" stroke-width="1.4" stroke-dasharray="2 1.3"/>
<line x1="1449.2" y1="60.6" x2="1449.2" y2="1038" stroke="#000" stroke-opacity="0.37" stroke-width="1.4" stroke-dasharray="2 1.3"/>
<line x1="774.8" y1="925.4" x2="1494.2" y2="925.4" stroke="#000" stroke-opacity="0.37" stroke-width="1.4" stroke-dasharray="2 1.3"/>
<line x1="774.8" y1="845.9" x2="1494.2" y2="845.9" stroke="#000" stroke-opacity="0.37" stroke-width="1.4" stroke-dasharray="2 1.3"/>
<line x1="774.8" y1="767.5" x2="1494.2" y2="767.5" stroke="#000" stroke-opacity="0.37" stroke-width="1.4" stroke-dasharray="2 1.3"/>
<line x1="774.8" y1="688.6" x2="1494.2" y2="688.6" stroke="#000" stroke-opacity="0.37" stroke-width="1.4" stroke-dasharray="2 1.3"/>
<line x1="774.8" y1="609.4" x2="1494.2" y2="609.4" stroke="#000" stroke-opacity="0.37" stroke-width="1.4" stroke-dasharray="2 1.3"/>
<line x1="774.8" y1="531.4" x2="1494.2" y2="531.4" stroke="#000" stroke-opacity="0.37" stroke-width="1.4" stroke-dasharray="2 1.3"/>
<line x1="774.8" y1="454.9" x2="1494.2" y2="454.9" stroke="#000" stroke-opacity="0.37" stroke-width="1.4" stroke-dasharray="2 1.3"/>
<line x1="774.8" y1="376.6" x2="1494.2" y2="376.6" stroke="#000" stroke-opacity="0.37" stroke-width="1.4" stroke-dasharray="2 1.3"/>
<line x1="774.8" y1="298.4" x2="1494.2" y2="298.4" stroke="#000" stroke-opacity="0.37" stroke-width="1.4" stroke-dasharray="2 1.3"/>
<line x1="774.8" y1="219.3" x2="1494.2" y2="219.3" stroke="#000" stroke-opacity="0.37" stroke-width="1.4" stroke-dasharray="2 1.3"/>
<line x1="774.8" y1="141.8" x2="1494.2" y2="141.8" stroke="#000" stroke-opacity="0.37" stroke-width="1.4" stroke-dasharray="2 1.3"/>
<line x1="1353.0" y1="73.5" x2="1375.0" y2="73.5" stroke="#ff0000" stroke-width="2.8"/>
<line x1="1353.0" y1="97.1" x2="1375.0" y2="97.1" stroke="#ff0000" stroke-width="2.8"/>
<line x1="1364.0" y1="73.5" x2="1364.0" y2="79.8" stroke="#ff0000" stroke-width="2.8"/>
<line x1="1364.0" y1="91.3" x2="1364.0" y2="97.1" stroke="#ff0000" stroke-width="2.8"/>
<rect x="1357.9" y="81.2" width="12.2" height="8.7" fill="none" stroke="#ff0000" stroke-width="2.8"/>
<line x1="1359.3" y1="85.3" x2="1368.7" y2="85.3" stroke="#000" stroke-width="2.6"/>
<line x1="1353.0" y1="124.7" x2="1375.0" y2="124.7" stroke="#0000ff" stroke-width="2.8"/>
<line x1="1353.0" y1="148.3" x2="1375.0" y2="148.3" stroke="#0000ff" stroke-width="2.8"/>
<line x1="1364.0" y1="124.7" x2="1364.0" y2="131.0" stroke="#0000ff" stroke-width="2.8"/>
<line x1="1364.0" y1="142.5" x2="1364.0" y2="148.3" stroke="#0000ff" stroke-width="2.8"/>
<rect x="1357.9" y="132.4" width="12.2" height="8.7" fill="none" stroke="#0000ff" stroke-width="2.8"/>
<line x1="1359.3" y1="136.5" x2="1368.7" y2="136.5" stroke="#000" stroke-width="2.6"/>
<line x1="1353.0" y1="173.3" x2="1375.0" y2="173.3" stroke="#000000" stroke-width="2.8"/>
<line x1="1353.0" y1="196.9" x2="1375.0" y2="196.9" stroke="#000000" stroke-width="2.8"/>
<line x1="1364.0" y1="173.3" x2="1364.0" y2="179.6" stroke="#000000" stroke-width="2.8"/>
<line x1="1364.0" y1="191.1" x2="1364.0" y2="196.9" stroke="#000000" stroke-width="2.8"/>
<rect x="1357.9" y="181.0" width="12.2" height="8.7" fill="none" stroke="#000000" stroke-width="2.8"/>
<line x1="1359.3" y1="185.1" x2="1368.7" y2="185.1" stroke="#000" stroke-width="2.6"/>
<circle cx="1366" cy="236.8" r="12.6" fill="#009100"/>
<circle cx="1366" cy="287.6" r="12.6" fill="#ff0000"/>
<circle cx="1366" cy="337.2" r="11.299999999999999" fill="none" stroke="#009100" stroke-width="2.6"/>
<text transform="translate(1401.00,96.70)" text-anchor="start" font-size="31.5" font-style="italic">XAa</text>
<text transform="translate(1401.00,148.60)" text-anchor="start" font-size="31.5" font-style="italic">XAu</text>
<text transform="translate(1396.20,197.20)" text-anchor="start" font-size="31.5">Soil</text>
<text transform="translate(1399.60,248.90)" text-anchor="start" font-size="31.5">UCC</text>
<text transform="translate(1398.00,299.60)" text-anchor="start" font-size="31.5">ECA</text>
<text transform="translate(1399.80,350.60)" text-anchor="start" font-size="31.5">PAAS</text>
<rect x="772.8" y="58.6" width="723.4" height="946.2" fill="none" stroke="#000" stroke-width="3"/>
<line x1="749" y1="1004.8" x2="772.8" y2="1004.8" stroke="#000" stroke-width="3"/>
<text transform="translate(729.00,1011.40)" text-anchor="middle" font-size="31">0</text>
<line x1="749" y1="845.9" x2="772.8" y2="845.9" stroke="#000" stroke-width="3"/>
<text transform="translate(728.80,857.70)" text-anchor="middle" font-size="31">2</text>
<line x1="749" y1="688.6" x2="772.8" y2="688.6" stroke="#000" stroke-width="3"/>
<text transform="translate(729.10,698.60)" text-anchor="middle" font-size="31">4</text>
<line x1="749" y1="531.4" x2="772.8" y2="531.4" stroke="#000" stroke-width="3"/>
<text transform="translate(728.50,539.10)" text-anchor="middle" font-size="31">6</text>
<line x1="749" y1="376.6" x2="772.8" y2="376.6" stroke="#000" stroke-width="3"/>
<text transform="translate(728.00,391.10)" text-anchor="middle" font-size="31">8</text>
<line x1="749" y1="219.3" x2="772.8" y2="219.3" stroke="#000" stroke-width="3"/>
<text transform="translate(721.30,231.35)" text-anchor="middle" font-size="31">10</text>
<line x1="749" y1="58.6" x2="772.8" y2="58.6" stroke="#000" stroke-width="3"/>
<text transform="translate(722.00,70.35)" text-anchor="middle" font-size="31">12</text>
<text transform="translate(824.00,98.10)" text-anchor="middle" font-size="44">(b)</text>
<text transform="translate(704.50,545.50) rotate(-90)" text-anchor="middle" font-size="31.5">C-sample/C-chondrite</text>
<text transform="translate(754.20,1102.70) rotate(-25)" text-anchor="middle" font-size="30">[ΣLREE/ΣHREE]<tspan font-size="18.5" dy="4" dx="1">NC</tspan></text>
<text transform="translate(912.30,1077.90) rotate(-25)" text-anchor="middle" font-size="30">[La/Yb]<tspan font-size="18.5" dy="4" dx="1">NC</tspan></text>
<text transform="translate(1018.60,1077.20) rotate(-25)" text-anchor="middle" font-size="30">[La/Lu]<tspan font-size="18.5" dy="4" dx="1">NC</tspan></text>
<text transform="translate(1125.40,1078.40) rotate(-25)" text-anchor="middle" font-size="30">[Ce/Yb]<tspan font-size="18.5" dy="4" dx="1">NC</tspan></text>
<text transform="translate(1234.70,1078.60) rotate(-25)" text-anchor="middle" font-size="30">[La/Sm]<tspan font-size="18.5" dy="4" dx="1">NC</tspan></text>
<text transform="translate(1339.50,1077.90) rotate(-25)" text-anchor="middle" font-size="30">[Gd/Lu]<tspan font-size="18.5" dy="4" dx="1">NC</tspan></text>
<text transform="translate(1435.10,1077.20) rotate(-25)" text-anchor="middle" font-size="30">[Gd/Yb]<tspan font-size="18.5" dy="4" dx="1">NC</tspan></text>
</svg>
</body></html>
